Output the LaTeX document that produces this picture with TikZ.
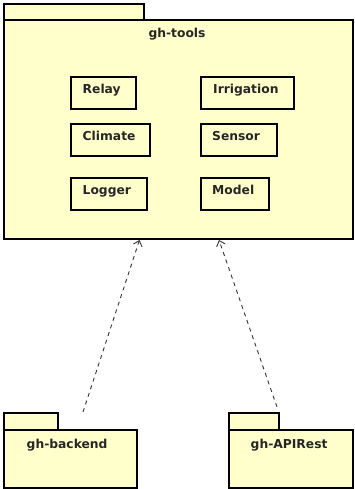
\documentclass[tikz,border=0pt]{standalone}
\usepackage{fontspec}
\setmainfont{DejaVu Sans}
\usetikzlibrary{arrows.meta}
\definecolor{pkgfill}{RGB}{255,255,204}
\tikzset{
  pkg/.style={draw=black, fill=pkgfill, line width=2pt},
  cls/.style={draw=black, fill=pkgfill, line width=2pt},
  lbl/.style={anchor=base west, inner sep=0pt, text=black!85, font=\bfseries\fontsize{12.3}{14}\selectfont},
  dep/.style={draw=black!80, line width=0.9pt, dash pattern=on 4pt off 4pt,
              -{Straight Barb[length=5pt,width=9pt,line width=0.9pt]}},
}
\begin{document}
\begin{tikzpicture}[x=1pt,y=-1pt]
\useasboundingbox (0,0) rectangle (354,489);

% package gh-tools
\draw[pkg] (4,4) rectangle (144,20);
\draw[pkg] (4,20) rectangle (353,239);
\node (tools) [lbl, anchor=base] at (177,37.5) {gh-tools};
\coordinate (toolsA) at (139.5,240);
\coordinate (toolsB) at (219,240);

% classes inside gh-tools
\draw[cls] (71,77) rectangle (136,109);
\node (relay) [lbl] at (82.5,93.5) {Relay};
\draw[cls] (201,77) rectangle (294,109);
\node (irrigation) [lbl] at (213,93.5) {Irrigation};
\draw[cls] (71,124) rectangle (150,156);
\node (climate) [lbl] at (82.5,140.5) {Climate};
\draw[cls] (201,124) rectangle (276.5,156);
\node (sensor) [lbl] at (212,140.5) {Sensor};
\draw[cls] (71,178) rectangle (146.5,210);
\node (logger) [lbl] at (82.5,194) {Logger};
\draw[cls] (201,178) rectangle (269,210);
\node (model) [lbl] at (212,194) {Model};

% package gh-backend
\draw[pkg] (4,413) rectangle (58,430);
\draw[pkg] (4,430) rectangle (136.5,487.5);
\node (backend) [lbl] at (26.5,448) {gh-backend};
\coordinate (backendTop) at (83,412);

% package gh-APIRest
\draw[pkg] (229,413) rectangle (278.5,430);
\draw[pkg] (229,430) rectangle (353,487.5);
\node (apirest) [lbl] at (250.5,448) {gh-APIRest};
\coordinate (apirestTop) at (277,407);

% dependencies
\draw[dep] (backendTop) -- (toolsA);
\draw[dep] (apirestTop) -- (toolsB);
\end{tikzpicture}
\end{document}
